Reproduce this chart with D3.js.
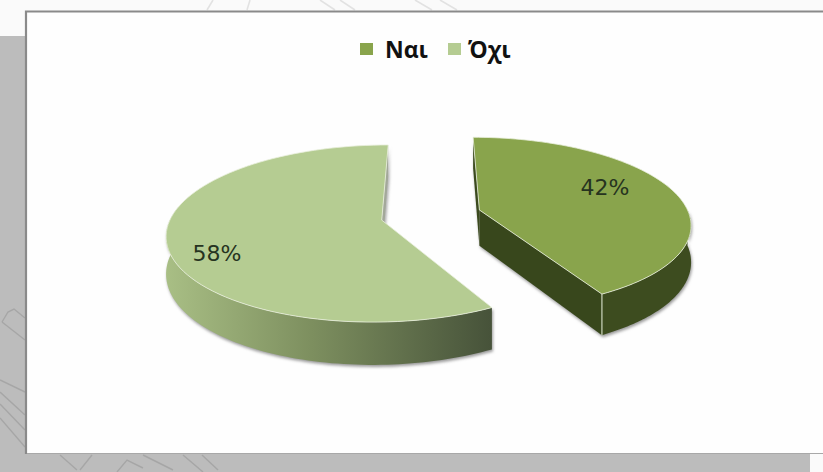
<!DOCTYPE html>
<html>
<head>
<meta charset="utf-8">
<script src="https://cdn.jsdelivr.net/npm/d3@7"></script>
<style>
  html, body { margin: 0; padding: 0; background: #fafafa; }
  svg { display: block; }
</style>
</head>
<body>
<svg id="chart" width="823" height="472"></svg>
<script>
const categories = ["Ναι", "Όχι"];
const values = [42, 58];
const tickLabels = ["42%", "58%"];

const topColors = ["#89a44c", "#b5cc92"];

const width = 823, height = 472;
const svg = d3.select("#chart");

// Faint contour strokes on the grey backing sheet
const contourStrips = [
  [[2,322],[8,312],[14,309],[25,318]], [[2,322],[25,340]],
  [[0,380],[25,392]], [[0,392],[25,415]], [[0,404],[25,430]], [[0,418],[25,447]],
  [[60,455],[77,470]], [[92,455],[80,470]],
  [[117,472],[127,460],[143,468]], [[143,455],[173,470]],
  [[183,455],[203,472]], [[202,455],[218,470]]
];
// Paler strokes of the same drawing above the frame
const upperStrips = [
  [[207,10],[213,0]], [[250,0],[247,10]], [[320,0],[335,10]],
  [[340,0],[355,10]], [[415,0],[432,10]], [[440,0],[457,10]]
];

const defs = svg.append("defs");

const wallFade = defs.append("linearGradient").attr("id", "wallFade")
  .attr("gradientUnits", "userSpaceOnUse")
  .attr("x1", 165).attr("x2", 490).attr("y1", 0).attr("y2", 0);
wallFade.append("stop").attr("offset", "0%").attr("stop-color", "#a9bf85");
wallFade.append("stop").attr("offset", "45%").attr("stop-color", "#7d8f5f");
wallFade.append("stop").attr("offset", "100%").attr("stop-color", "#47533a");

defs.append("filter").attr("id", "soft")
  .attr("x", "-10%").attr("y", "-10%").attr("width", "120%").attr("height", "120%")
  .append("feGaussianBlur").attr("stdDeviation", 1.6);

// Backing sheet and frame
svg.append("rect").attr("x", 0).attr("y", 36).attr("width", 26).attr("height", height - 36).attr("fill", "#bcbcbc");
svg.append("rect").attr("x", 0).attr("y", 454).attr("width", 810).attr("height", 18).attr("fill", "#bcbcbc");
svg.append("g").selectAll("path").data(contourStrips).join("path")
  .attr("d", d3.line())
  .attr("fill", "none").attr("stroke", "#a6a6a6").attr("stroke-width", 1.4);
svg.append("g").selectAll("path").data(upperStrips).join("path")
  .attr("d", d3.line())
  .attr("fill", "none").attr("stroke", "#e2e2e2").attr("stroke-width", 1.6);
svg.append("rect").attr("x", 26).attr("y", 11).attr("width", width - 26).attr("height", 443).attr("fill", "#fefefe");
svg.append("path").attr("d", `M${width},11.5H26V454`)
  .attr("fill", "none").attr("stroke", "#8a8a8a").attr("stroke-width", 2.2);
svg.append("path").attr("d", `M27,453.5H${width}`).attr("fill", "none").attr("stroke", "#a8a8a8").attr("stroke-width", 1);

// Perspective projection of the exploded pie: unit-disc coordinates to the page
const view = { cx: 431, cy: 215, a: 210, b: 85, persp: 0.15, depth: 36, explode: 0.24 };
const pie = d3.pie().sort(null).value(d => d);
const arcs = pie(values);

function project(px, py, z) {
  const s = 1 / (1 - view.persp * py);
  return [view.cx + view.a * px * s, view.cy + view.b * py * s + (z || 0) * view.depth * s];
}
function rim(arc, theta, z) {
  const mid = (arc.startAngle + arc.endAngle) / 2;
  const ox = view.explode * Math.sin(mid), oy = -view.explode * Math.cos(mid);
  return project(ox + Math.sin(theta), oy - Math.cos(theta), z);
}
function apex(arc, z) {
  const mid = (arc.startAngle + arc.endAngle) / 2;
  return project(view.explode * Math.sin(mid), -view.explode * Math.cos(mid), z);
}
const outline = d3.line();
const samples = (a, b, n = 90) => d3.range(n + 1).map(i => a + (b - a) * i / n);

function wallPath(arc, a, b) {
  const thetas = samples(a, b);
  return outline([...thetas.map(t => rim(arc, t, 0)), ...thetas.reverse().map(t => rim(arc, t, 1))]) + "Z";
}
function facePath(arc, theta) {
  return outline([apex(arc, 0), rim(arc, theta, 0), rim(arc, theta, 1), apex(arc, 1)]) + "Z";
}
function topPath(arc) {
  return outline([apex(arc, 0), ...samples(arc.startAngle, arc.endAngle).map(t => rim(arc, t, 0))]) + "Z";
}

const [yes, no] = arcs;
const pieLayer = svg.append("g");

// Soft drop shadow under the solids
const shadow = pieLayer.append("g").attr("filter", "url(#soft)").attr("fill", "#9a9a9a").attr("transform", "translate(1,2)");
shadow.append("path").attr("d", wallPath(no, no.startAngle, Math.PI * 1.5));
shadow.append("path").attr("d", facePath(no, no.endAngle));
shadow.append("path").attr("d", wallPath(yes, Math.PI / 2, yes.endAngle));
shadow.append("path").attr("d", facePath(yes, yes.endAngle));
shadow.append("path").attr("d", facePath(yes, yes.startAngle));

// Ναι: dark cut faces and rim
pieLayer.append("path").attr("d", facePath(yes, yes.startAngle)).attr("fill", "#3b4a1e");
pieLayer.append("path").attr("d", facePath(yes, yes.endAngle)).attr("fill", "#38471c");
pieLayer.append("path").attr("d", wallPath(yes, Math.PI / 2, yes.endAngle)).attr("fill", "#3d4c1f");
pieLayer.append("path").attr("d", outline([rim(yes, yes.endAngle, 0), rim(yes, yes.endAngle, 1)]))
  .attr("stroke", "#cdd6bd").attr("stroke-width", 1.2).attr("fill", "none");

// Όχι: shaded rim running from light to dark along the front
pieLayer.append("path").attr("d", facePath(no, no.endAngle)).attr("fill", "#a3a89a");
pieLayer.append("path").attr("d", wallPath(no, no.startAngle, Math.PI * 1.55)).attr("fill", "url(#wallFade)");

// Top faces
pieLayer.selectAll("path.top").data(arcs).join("path")
  .attr("class", "top")
  .attr("d", topPath)
  .attr("fill", (d, i) => topColors[i])
  .attr("stroke", "#e9efdc").attr("stroke-width", 0.8).attr("stroke-linejoin", "round");

// Slice percentages
const labelAnchors = [[605, 187], [217, 253]];
svg.append("g").selectAll("text").data(tickLabels).join("text")
  .attr("x", (d, i) => labelAnchors[i][0])
  .attr("y", (d, i) => labelAnchors[i][1])
  .attr("dy", "0.36em")
  .attr("text-anchor", "middle")
  .attr("font-family", "'DejaVu Sans', sans-serif")
  .attr("font-size", 22)
  .attr("fill", "#26331f")
  .text(d => d);

// Legend
const swatchX = [360, 448], legendTextX = [385, 468];
const legend = svg.append("g").selectAll("g").data(categories).join("g");
legend.append("rect")
  .attr("x", (d, i) => swatchX[i]).attr("y", 43)
  .attr("width", 13).attr("height", 12).attr("fill", (d, i) => topColors[i]);
legend.append("text")
  .attr("x", (d, i) => legendTextX[i]).attr("y", 50).attr("dy", "0.36em")
  .attr("font-family", "'Open Sans', sans-serif").attr("font-weight", 700)
  .attr("font-size", 23).attr("fill", "#111").text(d => d);
</script>
</body>
</html>
